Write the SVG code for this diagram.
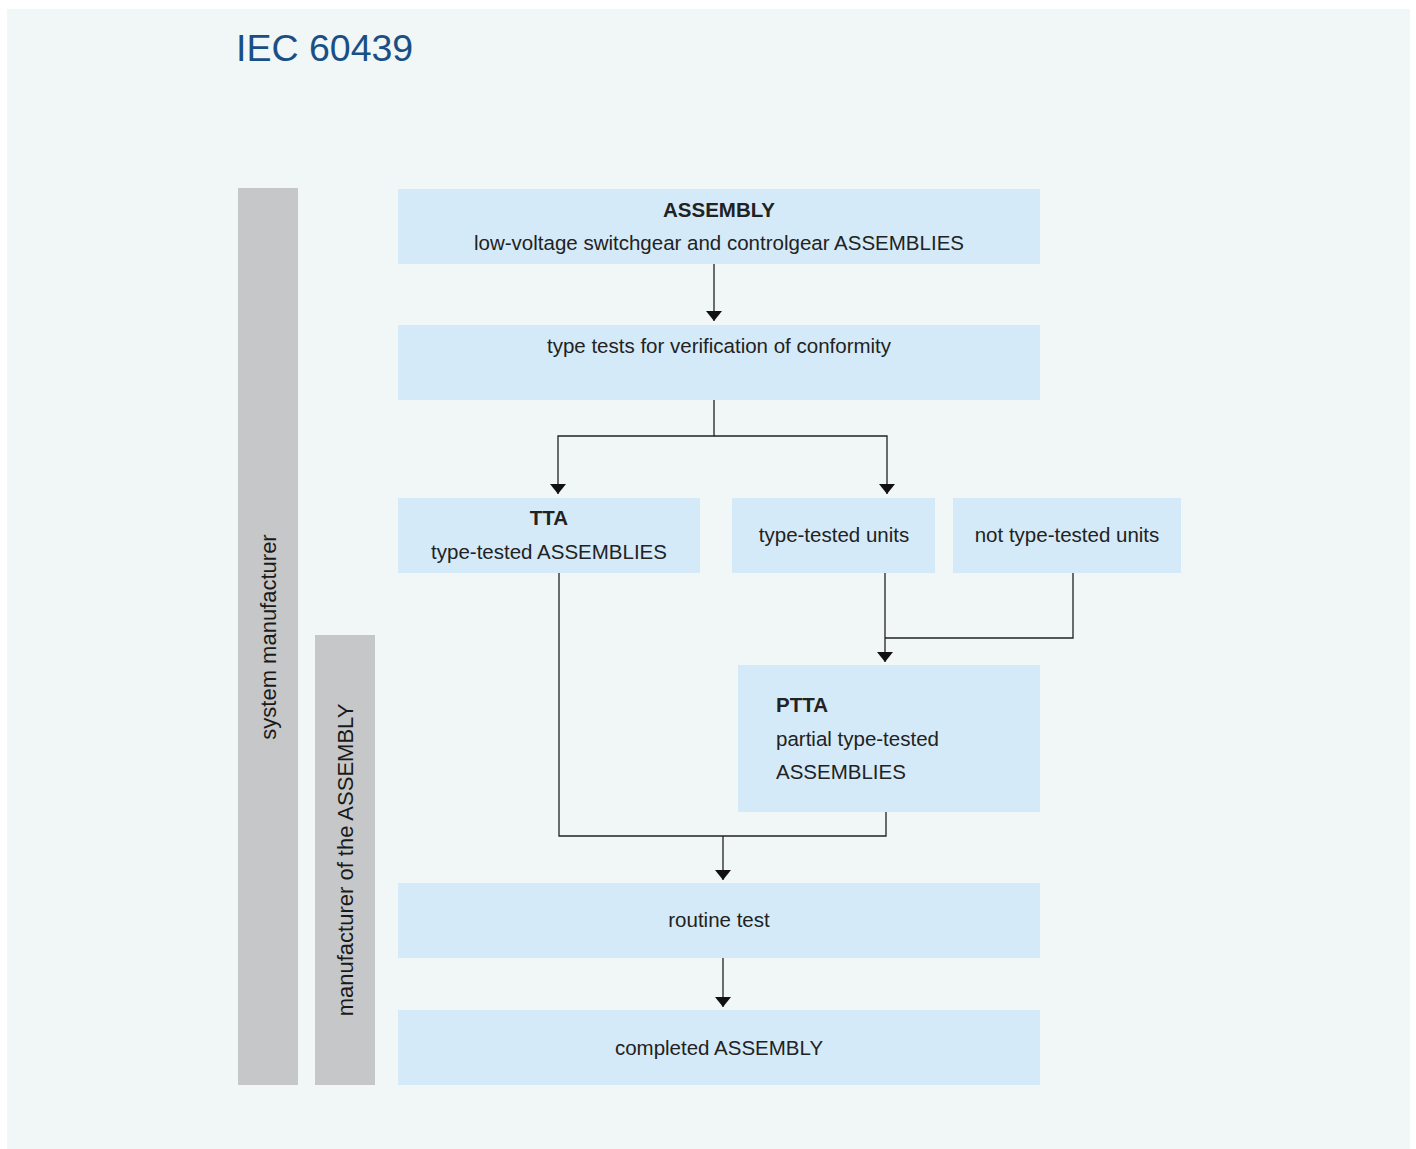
<svg xmlns="http://www.w3.org/2000/svg" width="1416" height="1149" viewBox="0 0 1416 1149">
<defs>
<style>
.bg{fill:#f1f6f7}
.box{fill:#d5eaf8}
.bar{fill:#c6c7c8}
.t{font-family:"Liberation Sans",Arial,sans-serif;font-size:20.5px;fill:#222}
.c{text-anchor:middle}
.b{font-weight:bold}
.side{font-family:"Liberation Sans",Arial,sans-serif;font-size:22px;fill:#1a1a1a;text-anchor:middle}
.title{font-family:"Liberation Sans",Arial,sans-serif;font-size:37.5px;fill:#1a4f85}
.ln{fill:none;stroke:#222;stroke-width:1.3}
</style>
<marker id="ah" viewBox="0 0 10 16" refX="10" refY="8" markerWidth="10" markerHeight="16" markerUnits="userSpaceOnUse" orient="auto">
<path d="M0,0 L10,8 L0,16 z" fill="#111"/>
</marker>
</defs>
<rect x="0" y="0" width="1416" height="1149" fill="#ffffff"/>
<rect class="bg" x="7" y="9" width="1403" height="1140"/>
<text class="title" x="236" y="61">IEC 60439</text>

<g id="bar-system">
<rect class="bar" x="238" y="188" width="60" height="897"/>
<text class="side" transform="translate(276,637) rotate(-90)">system manufacturer</text>
</g>
<g id="bar-manufacturer">
<rect class="bar" x="315" y="635" width="60" height="450"/>
<text class="side" transform="translate(353,860) rotate(-90)">manufacturer of the ASSEMBLY</text>
</g>

<g id="n-assembly">
<rect class="box" x="398" y="189" width="642" height="75"/>
<text class="t c b" x="719" y="217">ASSEMBLY</text>
<text class="t c" x="719" y="250">low-voltage switchgear and controlgear ASSEMBLIES</text>
</g>
<g id="n-typetests">
<rect class="box" x="398" y="325" width="642" height="75"/>
<text class="t c" x="719" y="353">type tests for verification of conformity</text>
</g>
<g id="n-tta">
<rect class="box" x="398" y="498" width="302" height="75"/>
<text class="t c b" x="549" y="525">TTA</text>
<text class="t c" x="549" y="559">type-tested ASSEMBLIES</text>
</g>
<g id="n-ttunits">
<rect class="box" x="732" y="498" width="203" height="75"/>
<text class="t c" x="834" y="542">type-tested units</text>
</g>
<g id="n-nttunits">
<rect class="box" x="953" y="498" width="228" height="75"/>
<text class="t c" x="1067" y="542">not type-tested units</text>
</g>
<g id="n-ptta">
<rect class="box" x="738" y="665" width="302" height="147"/>
<text class="t b" x="776" y="712">PTTA</text>
<text class="t" x="776" y="746">partial type-tested</text>
<text class="t" x="776" y="779">ASSEMBLIES</text>
</g>
<g id="n-routine">
<rect class="box" x="398" y="883" width="642" height="75"/>
<text class="t c" x="719" y="927">routine test</text>
</g>
<g id="n-completed">
<rect class="box" x="398" y="1010" width="642" height="75"/>
<text class="t c" x="719" y="1055">completed ASSEMBLY</text>
</g>

<g id="connectors">
<line class="ln" x1="714" y1="264" x2="714" y2="321" marker-end="url(#ah)"/>
<polyline class="ln" points="714,400 714,436 558,436 558,494" marker-end="url(#ah)"/>
<polyline class="ln" points="714,436 887,436 887,494" marker-end="url(#ah)"/>
<line class="ln" x1="885" y1="573" x2="885" y2="662" marker-end="url(#ah)"/>
<polyline class="ln" points="1073,573 1073,638 885,638"/>
<polyline class="ln" points="559,573 559,836 886,836 886,812"/>
<line class="ln" x1="723" y1="836" x2="723" y2="880" marker-end="url(#ah)"/>
<line class="ln" x1="723" y1="958" x2="723" y2="1007" marker-end="url(#ah)"/>
</g>
</svg>
